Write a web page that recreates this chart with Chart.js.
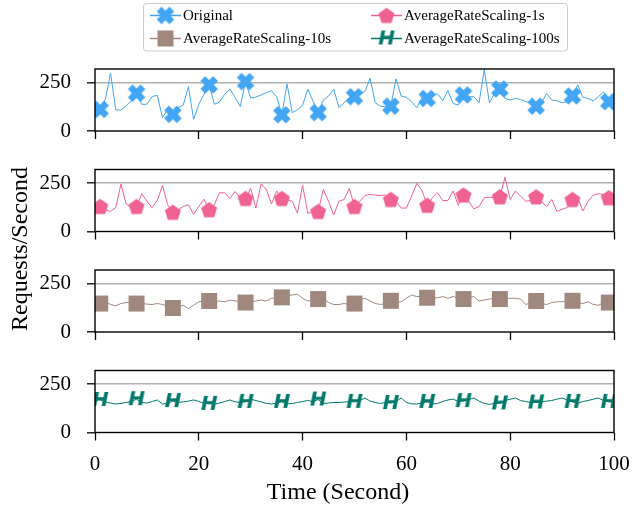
<!DOCTYPE html>
<html><head><meta charset="utf-8">
<script src="https://cdn.jsdelivr.net/npm/chart.js@4/dist/chart.umd.min.js"></script>
<style>
html,body{margin:0;padding:0;background:#fff;}
#wrap{position:relative;width:633px;height:509px;overflow:hidden;}
#wrap canvas{position:absolute;left:0;top:0;}
</style></head><body>
<div id="wrap">
<canvas id="c0" width="633" height="509"></canvas>
<canvas id="c1" width="633" height="509"></canvas>
<canvas id="c2" width="633" height="509"></canvas>
<canvas id="c3" width="633" height="509"></canvas>
</div>
<script>
// ---------- data ----------
const timeSeconds = [0,1,2,3,4,5,6,7,8,9,10,11,12,13,14,15,16,17,18,19,20,21,22,23,24,25,26,27,28,29,30,31,32,33,34,35,36,37,38,39,40,41,42,43,44,45,46,47,48,49,50,51,52,53,54,55,56,57,58,59,60,61,62,63,64,65,66,67,68,69,70,71,72,73,74,75,76,77,78,79,80,81,82,83,84,85,86,87,88,89,90,91,92,93,94,95,96,97,98,99,100];
const seriesNames = ['Original','AverageRateScaling-1s','AverageRateScaling-10s','AverageRateScaling-100s'];
const originalRate = [125,111,165,299,109,109,129,155,195,138,138,178,184,69,112,86,121,133,229,60,138,190,238,138,150,190,216,172,126,255,170,175,186,198,208,177,84,243,95,109,133,216,155,95,160,180,216,121,145,172,177,194,203,272,146,128,125,128,269,180,174,151,120,174,168,177,194,156,208,142,134,186,177,177,146,316,146,194,217,168,160,168,163,151,146,128,142,194,160,156,146,151,181,238,174,168,156,177,203,151,160];
const rate1s = [129,129,112,103,124,245,142,124,129,195,156,124,160,238,138,99,112,129,138,89,129,167,112,138,200,200,170,206,174,170,223,121,245,218,142,209,170,165,156,94,239,94,103,103,218,156,85,156,165,222,129,156,186,191,188,186,188,165,156,121,121,183,248,213,135,174,200,160,160,209,135,188,156,117,129,174,177,174,179,280,165,209,183,156,160,179,156,129,165,103,115,124,165,174,106,156,188,195,191,174,183];
const rate10s = [152,147,156,142,135,147,152,152,147,147,144,142,147,142,135,124,129,138,121,138,156,160,160,160,160,156,165,160,160,152,156,160,165,160,174,177,179,188,191,195,174,160,165,170,174,152,142,142,147,142,147,165,174,160,147,142,147,161,152,156,174,191,183,183,177,177,177,183,174,183,174,170,177,183,160,165,170,174,170,174,174,174,170,142,152,160,147,142,152,156,156,160,161,152,147,156,142,138,152,152,142];
const rate100s = [165,168,158,152,147,150,155,160,172,155,152,160,168,147,150,162,155,158,162,168,160,150,148,147,152,160,168,158,155,158,172,165,158,150,147,152,158,147,150,155,160,165,160,170,150,152,155,155,157,160,158,165,178,162,155,150,155,152,160,178,155,148,147,152,158,147,150,160,168,172,160,162,170,178,162,150,145,150,150,165,172,178,165,160,155,155,158,162,165,172,178,168,158,150,160,165,172,178,165,158,155];
const yTickValues = [0, 250];
const xTickValues = [0, 20, 40, 60, 80, 100];
const xTitle = 'Time (Second)';
const yTitle = 'Requests/Second';

// ---------- styles / layout ----------
const colors = ['#42A5F5', '#F06292', '#A1887F', '#00796B'];
const panelTops = [69, 169.5, 270, 370.5];
const panelBottoms = [131, 231.5, 332, 432.5];
const plotLeft = 95, plotRight = 614;
const W = 633, H = 509;
const SERIF = '"Liberation Serif", "Times New Roman", serif';

function makeCanvas(w, h, draw) {
  const c = document.createElement('canvas');
  c.width = w; c.height = h;
  const g = c.getContext('2d');
  draw(g, w, h);
  return c;
}
const markerX = makeCanvas(22, 22, g => {
  g.translate(11, 11); g.rotate(Math.PI / 4); g.fillStyle = colors[0];
  const L = 18, w = 6.8;
  g.fillRect(-L / 2, -w / 2, L, w); g.fillRect(-w / 2, -L / 2, w, L);
});
const markerPent = makeCanvas(20, 20, g => {
  g.translate(10, 10.6); g.fillStyle = colors[1];
  const r = 8.4;
  g.beginPath();
  for (let k = 0; k < 5; k++) {
    const a = -Math.PI / 2 + k * 2 * Math.PI / 5;
    const px = r * Math.cos(a), py = r * Math.sin(a);
    if (k === 0) g.moveTo(px, py); else g.lineTo(px, py);
  }
  g.closePath(); g.fill();
});
const markerSquare = makeCanvas(18, 18, g => {
  g.fillStyle = colors[2]; g.fillRect(1, 1, 16, 16);
});
const markerH = makeCanvas(24, 24, g => {
  g.fillStyle = colors[3];
  g.font = 'bold italic 20px "DejaVu Sans"';
  g.textAlign = 'center'; g.textBaseline = 'middle';
  g.fillText('H', 12, 12.5);
});
const markers = [markerX, markerPent, markerSquare, markerH];
const seriesData = [originalRate, rate1s, rate10s, rate100s];

const framePlugin = {
  id: 'frame',
  afterDraw(chart) {
    const {ctx, chartArea: a} = chart;
    ctx.save();
    ctx.strokeStyle = '#000'; ctx.lineWidth = 1.4;
    ctx.strokeRect(a.left, a.top, a.right - a.left, a.bottom - a.top);
    ctx.restore();
  }
};

const decorPlugin = {
  id: 'decor',
  afterDraw(chart) {
    const ctx = chart.ctx;
    ctx.save();
    // legend box
    const bx = 143.5, by = 3.5, bw = 424, bh = 47.5, rr = 3;
    ctx.beginPath();
    ctx.moveTo(bx + rr, by); ctx.lineTo(bx + bw - rr, by); ctx.quadraticCurveTo(bx + bw, by, bx + bw, by + rr);
    ctx.lineTo(bx + bw, by + bh - rr); ctx.quadraticCurveTo(bx + bw, by + bh, bx + bw - rr, by + bh);
    ctx.lineTo(bx + rr, by + bh); ctx.quadraticCurveTo(bx, by + bh, bx, by + bh - rr);
    ctx.lineTo(bx, by + rr); ctx.quadraticCurveTo(bx, by, bx + rr, by);
    ctx.fillStyle = 'rgba(255,255,255,0.8)'; ctx.fill();
    ctx.strokeStyle = '#cccccc'; ctx.lineWidth = 1; ctx.stroke();
    const cols = [150, 371], rows = [15.5, 38.5];
    const order = [[0, 0, 0], [1, 1, 0], [2, 0, 1], [3, 1, 1]];
    ctx.font = '15px ' + SERIF; ctx.textBaseline = 'middle'; ctx.textAlign = 'left';
    for (const [i, c, r] of order) {
      const x0 = cols[c], y0 = rows[r];
      ctx.strokeStyle = colors[i]; ctx.lineWidth = 1.5;
      ctx.beginPath(); ctx.moveTo(x0, y0); ctx.lineTo(x0 + 31, y0); ctx.stroke();
      const m = markers[i];
      ctx.drawImage(m, x0 + 15.5 - m.width / 2, y0 - m.height / 2);
      ctx.fillStyle = '#000';
      ctx.fillText(seriesNames[i], x0 + 33, y0 + 0.5);
    }
    // x title
    ctx.font = '24px ' + SERIF; ctx.textAlign = 'center'; ctx.textBaseline = 'middle';
    ctx.fillStyle = '#000';
    ctx.fillText(xTitle, 338, 493);
    // y title
    ctx.translate(21, 249); ctx.rotate(-Math.PI / 2);
    ctx.fillText(yTitle, 0, 0);
    ctx.restore();
  }
};

function panelChart(idx) {
  const isLast = idx === 3;
  const top = panelTops[idx], bottom = panelBottoms[idx];
  const xh = isLast ? H - bottom : 10;
  const vals = seriesData[idx];
  return new Chart(document.getElementById('c' + idx), {
    type: 'line',
    data: {
      datasets: [{
        label: seriesNames[idx],
        data: timeSeconds.map((t, i) => ({x: t, y: vals[i]})),
        borderColor: colors[idx],
        backgroundColor: colors[idx],
        borderWidth: 1,
        tension: 0,
        fill: false,
        pointStyle: markers[idx],
        pointRadius: ctx => (ctx.dataIndex % 7 === 1 ? 8 : 0),
        pointHoverRadius: 0,
        pointHitRadius: 0
      }]
    },
    options: {
      responsive: false,
      animation: false,
      events: [],
      layout: {autoPadding: false, padding: {left: 0, right: W - plotRight, top: top, bottom: H - bottom - xh}},
      plugins: {legend: {display: false}, tooltip: {enabled: false}},
      scales: {
        x: {
          type: 'linear', min: 0, max: 100,
          afterFit: s => { s.height = xh; s.paddingLeft = 0; s.paddingRight = 0; },
          afterBuildTicks: s => { s.ticks = xTickValues.map(v => ({value: v})); },
          grid: {drawOnChartArea: false, drawTicks: true, tickLength: 8, tickColor: '#000', tickWidth: 1.3},
          border: {display: false},
          ticks: {display: isLast, padding: 11, color: '#000', font: {family: SERIF, size: 21}, maxRotation: 0, autoSkip: false},
          title: {display: false}
        },
        y: {
          min: 0, max: 320,
          afterFit: s => { s.width = plotLeft; s.paddingTop = 0; s.paddingBottom = 0; },
          afterBuildTicks: s => { s.ticks = yTickValues.map(v => ({value: v})); },
          grid: {
            color: c => (c.tick && c.tick.value === 250 ? '#b0b0b0' : 'rgba(0,0,0,0)'),
            lineWidth: 1.6, drawTicks: true, tickLength: 8, tickColor: '#000', tickWidth: 1.3
          },
          border: {display: false},
          ticks: {padding: 16, color: '#000', font: {family: SERIF, size: 21}}
        }
      }
    },
    plugins: idx === 0 ? [framePlugin, decorPlugin] : [framePlugin]
  });
}
for (let i = 0; i < 4; i++) panelChart(i);
</script>
</body></html>
